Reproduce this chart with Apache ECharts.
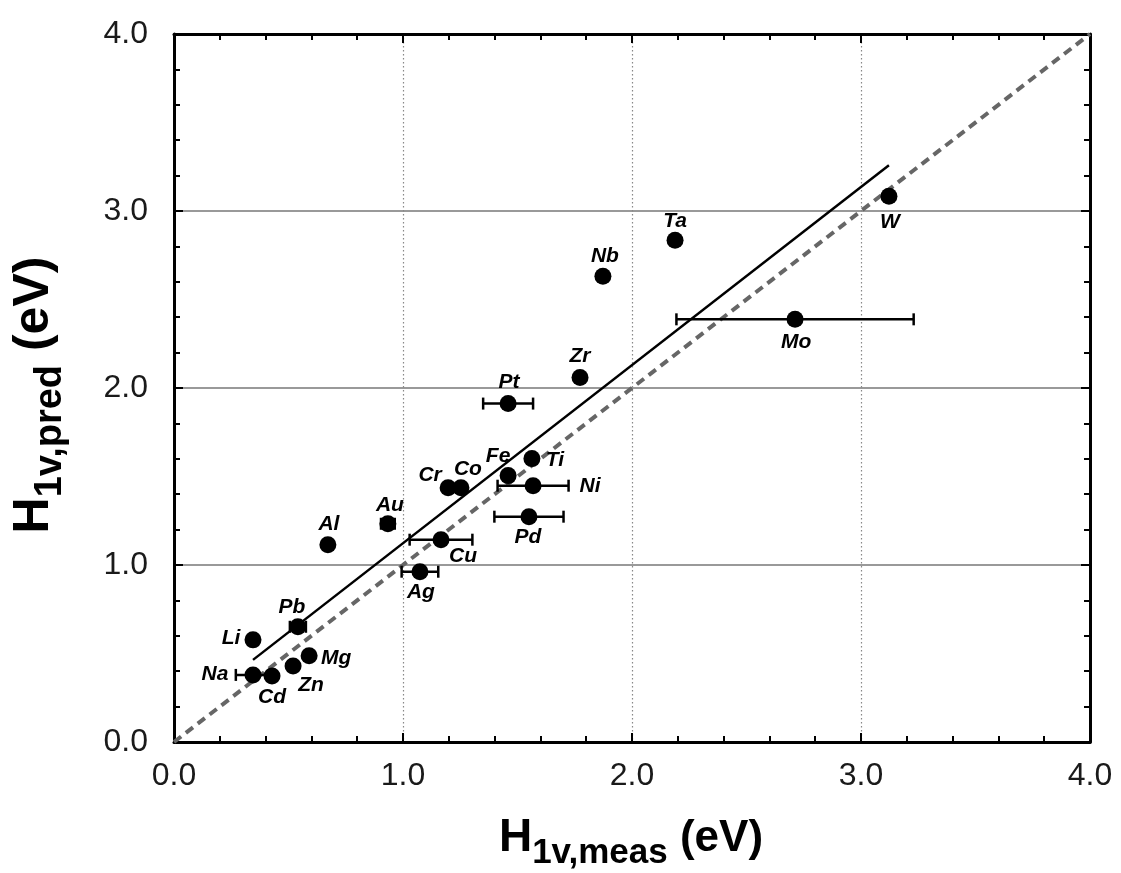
<!DOCTYPE html>
<html><head><meta charset="utf-8">
<script src="https://cdn.jsdelivr.net/npm/echarts@6/dist/echarts.min.js"></script>
<style>html,body{margin:0;padding:0;background:#fff}#c{width:1121px;height:873px}</style>
</head><body><div id="c"></div>
<script>
// ---- data ----
const elements = ['Li','Na','Cd','Zn','Mg','Pb','Al','Au','Cu','Ag','Cr','Co','Fe','Ti','Ni','Pd','Pt','Zr','Nb','Ta','Mo','W'];
const hMeas = [0.345,0.345,0.428,0.520,0.590,0.541,0.672,0.934,1.166,1.074,1.197,1.253,1.459,1.563,1.568,1.550,1.459,1.773,1.873,2.188,2.712,3.122];
const hPred = [0.577,0.379,0.373,0.430,0.487,0.651,1.115,1.233,1.143,0.962,1.437,1.437,1.505,1.601,1.448,1.273,1.912,2.059,2.631,2.835,2.388,3.083];
const xErr  = [0,0.075,0,0,0,0.035,0,0.03,0.137,0.08,0,0,0,0,0.155,0.151,0.109,0,0,0,0.518,0];
const fitX = [0.345, 3.122];
const fitY = [0.464, 3.259];
const parityX = [0, 4];
const parityY = [0, 4];
const tickLabels = ['0.0','1.0','2.0','3.0','4.0'];

// ---- label placement (style) ----
const labelOffset = {Li:[-22,-2], Na:[-38,-1], Cd:[0,21], Zn:[18,19], Mg:[27,2], Pb:[-6,-20], Al:[1,-20], Au:[2,-19],
  Cu:[22,17], Ag:[1,20], Cr:[-18,-12], Co:[7,-18], Fe:[-10,-19], Ti:[23,2], Ni:[57,0], Pd:[-1,21], Pt:[1,-21],
  Zr:[0,-21], Nb:[2,-20], Ta:[0,-19], Mo:[1,23], W:[1,26]};

const FONT = 'Liberation Sans, Arial, sans-serif';
const chart = echarts.init(document.getElementById('c'), null, {renderer:'canvas'});

const mctx = document.createElement('canvas').getContext('2d');
function measure(t, size) { mctx.font = 'bold ' + size + 'px "Liberation Sans", Arial, sans-serif'; return mctx.measureText(t).width; }
// title made of parts {t, size, drop}; drop = baseline shift downward
function titleGroup(parts, cx, cy, rot) {
  const widths = parts.map(p => measure(p.t, p.size));
  const total = widths.reduce((a,b)=>a+b, 0);
  let x = -total/2;
  const children = parts.map((p,i) => {
    const el = {type:'text', x:x, y:p.drop - 0.33*p.size,
      style:{text:p.t, fontSize:p.size, fontWeight:'bold', fontFamily:FONT, fill:'#000', align:'left', verticalAlign:'middle'}};
    x += widths[i];
    return el;
  });
  return {type:'group', x:cx, y:cy, rotation:rot, z:10, children};
}

function baseAxis(pos, labels, split) {
  return {
    type:'value', min:0, max:4, interval:1, position:pos,
    axisLine:{show:true, onZero:false, lineStyle:{color:'#000', width:3}},
    axisTick:{show:true, inside:true, length:9, lineStyle:{color:'#000', width:2}},
    minorTick:{show:true, splitNumber:5, length:6, lineStyle:{color:'#000', width:2}},
    axisLabel:{show:!!labels, fontSize:32, color:'#1a1a1a', fontFamily:FONT, margin:labels==='y'?26:18,
      formatter:v => tickLabels[Math.round(v)]},
    splitLine: split,
    minorSplitLine:{show:false}
  };
}

const option = {
  animation:false,
  backgroundColor:'#fff',
  grid:{left:174, right:31, top:34, bottom:131, containLabel:false},
  xAxis:[
    baseAxis('bottom', 'x', {show:true, lineStyle:{color:'#888', width:1.2, type:[1.5,2.5]}}),
    baseAxis('top', false, {show:false})
  ],
  yAxis:[
    baseAxis('left', 'y', {show:true, lineStyle:{color:'#777', width:1.5, type:'solid'}}),
    baseAxis('right', false, {show:false})
  ],
  graphic:[
    titleGroup([{t:'H', size:46, drop:0}, {t:'1v,meas', size:35, drop:12}, {t:' (eV)', size:44, drop:0}], 631, 853, 0),
    titleGroup([{t:'H', size:50, drop:0}, {t:'1v,pred', size:38, drop:12}, {t:' (eV)', size:50, drop:0}], 51, 395, Math.PI/2)
  ],
  series:[
    {type:'line', name:'parity', data:parityX.map((x,i)=>[x,parityY[i]]), symbol:'none', z:2,
      lineStyle:{color:'#666', width:4, type:[9,6]}},
    {type:'line', name:'fit', data:fitX.map((x,i)=>[x,fitY[i]]), symbol:'none', z:3,
      lineStyle:{color:'#000', width:2.5}},
    {type:'custom', name:'xerr', z:4,
      data: elements.map((n,i)=>[hMeas[i], hPred[i], xErr[i]]).filter(d=>d[2]>0),
      renderItem:(params, api) => {
        const x = api.value(0), y = api.value(1), e = api.value(2);
        const p1 = api.coord([x-e, y]), p2 = api.coord([x+e, y]);
        const h = 6, st = {stroke:'#000', lineWidth:2.5};
        return {type:'group', children:[
          {type:'line', shape:{x1:p1[0], y1:p1[1], x2:p2[0], y2:p2[1]}, style:st},
          {type:'line', shape:{x1:p1[0], y1:p1[1]-h, x2:p1[0], y2:p1[1]+h}, style:st},
          {type:'line', shape:{x1:p2[0], y1:p2[1]-h, x2:p2[0], y2:p2[1]+h}, style:st}
        ]};
      }},
    {type:'scatter', name:'points', z:5, symbol:'circle', symbolSize:17,
      itemStyle:{color:'#000', opacity:1},
      label:{show:true, position:'inside', formatter:'{b}', fontSize:21, fontWeight:'bold', fontStyle:'italic',
        color:'#000', opacity:1, fontFamily:FONT},
      emphasis:{disabled:true},
      data: elements.map((n,i)=>({name:n, value:[hMeas[i], hPred[i]], label:{offset:labelOffset[n]}}))}
  ]
};
chart.setOption(option);
</script></body></html>
